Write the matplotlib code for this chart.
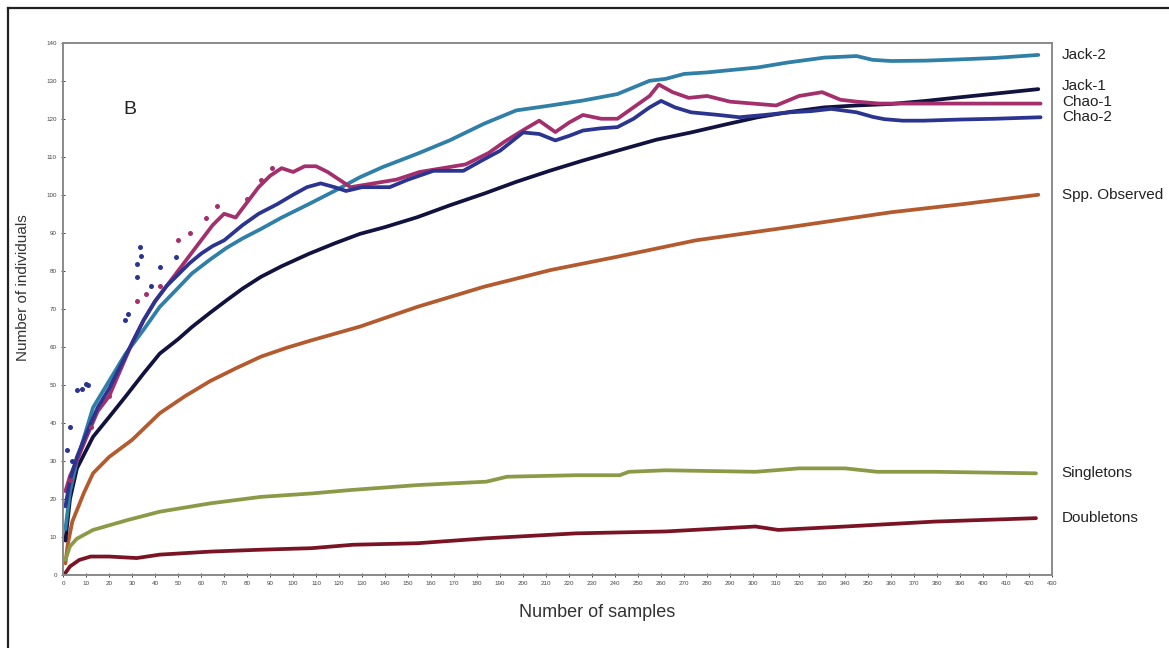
import numpy as np
import matplotlib
matplotlib.use('Agg')
import matplotlib.pyplot as plt
from matplotlib.lines import Line2D

plt.rcParams['font.family'] = ['Liberation Sans', 'DejaVu Sans']

# curves (sample number, estimated value)
jack2_x = [1, 3, 6, 10, 13, 20, 27, 35, 42, 50, 56, 64, 71, 78, 86, 95, 107, 118, 129, 139,
           154, 168, 183, 197, 212, 226, 241, 255, 262, 270, 280, 290, 302, 315, 331, 345,
           352, 360, 375, 389, 405, 424]
jack2_y = [12, 22, 30, 38, 44, 51, 58, 64.5, 70.5, 75.5, 79.3, 83, 86, 88.5, 91, 94, 97.6,
           101, 104.6, 107.3, 110.8, 114.3, 118.7, 122.2, 123.5, 124.8, 126.5, 130, 130.5,
           131.8, 132.2, 132.8, 133.5, 134.8, 136.1, 136.5, 135.5, 135.2, 135.3, 135.6, 136, 136.8]

jack1_x = [1, 3, 6, 13, 20, 27, 35, 42, 50, 56, 64, 71, 78, 86, 95, 107, 118, 129, 140, 154,
           168, 183, 197, 212, 226, 241, 258, 273, 288, 302, 316, 331, 345, 360, 375, 389, 405, 424]
jack1_y = [9, 20, 28, 36.3, 41.5, 46.8, 53, 58.2, 62, 65.2, 69, 72.2, 75.3, 78.4, 81.2, 84.5,
           87.2, 89.7, 91.5, 94.1, 97.2, 100.3, 103.4, 106.4, 109, 111.6, 114.5, 116.4, 118.5,
           120.4, 121.8, 123, 123.5, 123.9, 124.7, 125.6, 126.6, 127.8]

chao1_x = [1, 3, 6, 10, 15, 20, 25, 30, 35, 40, 45, 50, 55, 60, 65, 70, 75, 80, 85, 90, 95, 100,
           105, 110, 115, 120, 125, 135, 145, 155, 165, 175, 185, 192, 200, 207, 214, 220, 226,
           234, 241, 248, 255, 259, 265, 272, 280, 290, 300, 310, 320, 330, 338, 345, 355, 365,
           375, 390, 405, 425]
chao1_y = [22, 26, 30, 36, 43, 47, 54, 61, 67, 72, 76, 80, 84, 88, 92, 95, 94, 98, 102, 105, 107,
           106, 107.5, 107.5, 106, 104, 102, 103, 104, 106, 107, 108, 111, 114, 117, 119.5, 116.5,
           119, 121, 120, 120, 123, 126, 129, 127, 125.5, 126, 124.5, 124, 123.5, 126, 127, 125,
           124.5, 124, 124, 124, 124, 124, 124]

chao2_x = [1, 3, 6, 10, 15, 20, 25, 30, 35, 40, 45, 50, 55, 60, 65, 70, 78, 85, 93, 100, 106, 112,
           118, 123, 130, 142, 150, 161, 174, 182, 190, 200, 207, 214, 220, 226, 234, 241, 248,
           255, 260, 266, 273, 285, 294, 305, 316, 325, 334, 345, 352, 357, 365, 374, 390, 405, 425]
chao2_y = [18, 25, 31, 37, 44, 49, 55, 61, 67, 72, 76, 79, 82, 84.5, 86.5, 88, 92, 95, 97.5, 100,
           102, 103, 102, 101, 102, 102, 104, 106.3, 106.3, 109, 111.6, 116.4, 116, 114.3, 115.5,
           116.9, 117.5, 117.8, 120, 123, 124.7, 123, 121.7, 121, 120.4, 121, 121.7, 122, 122.6,
           121.7, 120.5, 119.9, 119.5, 119.5, 119.8, 120, 120.4]

# scattered early estimates that sit away from the main trend
chao1_dots_x = [3, 12, 20, 32, 36, 42, 50, 55, 62, 67, 80, 86, 91]
chao1_dots_y = [25, 39, 47, 72, 74, 76, 88, 90, 94, 97, 99, 104, 107]
chao2_dots_x = [1.5, 3, 4, 6, 8, 10, 11, 27, 28, 32, 32, 33.5, 34, 38, 42, 49]
chao2_dots_y = [32.8, 39, 30, 48.6, 49, 50.3, 50, 67, 68.7, 78.4, 81.8, 86.2, 84, 76, 81, 83.6]

spp_x = [1, 2, 4, 9, 13, 20, 30, 42, 53, 64, 75, 86, 97, 108, 129, 154, 183, 212, 241, 275,
         316, 360, 392, 424]
spp_y = [3, 8, 14, 21.5, 26.7, 31, 35.5, 42.5, 47, 51, 54.3, 57.4, 59.7, 61.7, 65.3, 70.5, 75.8,
         80.2, 83.7, 88, 91.5, 95.4, 97.6, 100]

single_x = [1, 3, 6, 13, 28, 42, 64, 86, 108, 125, 154, 184, 193, 223, 242, 246, 262, 301, 320,
            340, 354, 379, 423]
single_y = [4, 7.5, 9.5, 11.8, 14.4, 16.6, 18.8, 20.5, 21.4, 22.3, 23.6, 24.5, 25.8, 26.2, 26.2,
            27.1, 27.5, 27.1, 28, 28, 27.1, 27.1, 26.7]

double_x = [1, 3, 7, 12, 20, 32, 42, 64, 86, 108, 126, 154, 184, 223, 262, 301, 311, 340, 379, 423]
double_y = [0.5, 2.2, 3.9, 4.8, 4.8, 4.4, 5.3, 6.1, 6.6, 7, 7.9, 8.3, 9.6, 10.9, 11.4, 12.7,
            11.8, 12.7, 14, 14.9]

series = [
    ('Spp. Observed', spp_x, spp_y, '#b35a2e'),
    ('Singletons', single_x, single_y, '#8c9a48'),
    ('Doubletons', double_x, double_y, '#7a1424'),
    ('Jack-1', jack1_x, jack1_y, '#12123f'),
    ('Jack-2', jack2_x, jack2_y, '#2f7fa6'),
    ('Chao-1', chao1_x, chao1_y, '#a3306c'),
    ('Chao-2', chao2_x, chao2_y, '#2b3590'),
]

fig = plt.figure(figsize=(11.69, 6.48), dpi=100)
ax = fig.add_axes([0.054, 0.113, 0.846, 0.821])

for name, xs, ys, col in series:
    ax.plot(xs, ys, color=col, lw=2.7, solid_joinstyle='round', solid_capstyle='round')

ax.scatter(chao1_dots_x, chao1_dots_y, s=13, color='#a3306c', zorder=3, linewidths=0)
ax.scatter(chao2_dots_x, chao2_dots_y, s=13, color='#2b3590', zorder=3, linewidths=0)

ax.set_xlim(0, 430)
ax.set_ylim(0, 140)
ax.set_xticks(np.arange(0, 431, 10))
ax.set_yticks(np.arange(0, 141, 10))
ax.tick_params(labelsize=4.5, length=3, width=0.7, direction='inout', colors='#444444', pad=3)
for sp in ax.spines.values():
    sp.set_color('#8a8a8a')
    sp.set_linewidth(1.4)

ax.set_xlabel('Number of samples', fontsize=13, color='#333333')
ax.xaxis.set_label_coords(0.54, -0.055)
ax.set_ylabel('Number of individuals', fontsize=11, color='#333333')
ax.yaxis.set_label_coords(-0.034, 0.54)

ax.text(29, 122.5, 'B', fontsize=14, color='#222222', ha='center', va='center')

# labels at the end of each curve, outside the plot
offsets = {'Jack-1': 0.8, 'Chao-1': 0.4, 'Chao-2': 0.0}
for name, xs, ys, col in series:
    ax.annotate(name, xy=(1.0, ys[-1] + offsets.get(name, 0)),
                xycoords=('axes fraction', 'data'), xytext=(7, 0),
                textcoords='offset points', fontsize=11, color='#222222',
                va='center', ha='left', annotation_clip=False)

# outer frame of the figure
fig.add_artist(Line2D([8 / 1169, 8 / 1169], [0, 1 - 8 / 648], transform=fig.transFigure,
                      color='#222222', lw=1.6))
fig.add_artist(Line2D([8 / 1169, 1], [1 - 8 / 648, 1 - 8 / 648], transform=fig.transFigure,
                      color='#222222', lw=1.6))

fig.savefig('out.png', dpi=100)
